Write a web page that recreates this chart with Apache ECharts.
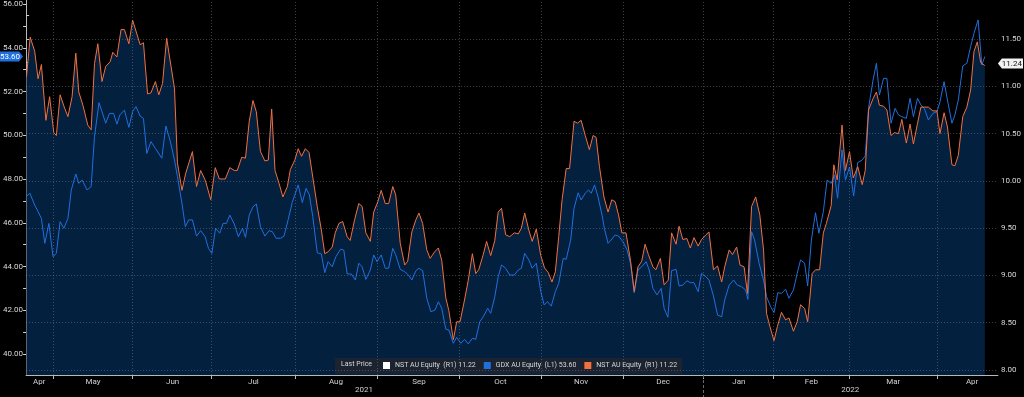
<!DOCTYPE html>
<html>
<head>
<meta charset="utf-8">
<script src="https://cdn.jsdelivr.net/npm/echarts@6/dist/echarts.min.js"></script>
<style>
html, body { margin: 0; padding: 0; background: #000; }
#main { width: 1024px; height: 397px; }
</style>
</head>
<body>
<div id="main"></div>
<script>
// x = trading day counted from the first close shown, y = last price
var gdxSeries = [[0.0,47.19],[1.0,47.35],[2.3,46.81],[3.2,46.51],[4.1,46.20],[5.0,45.06],[6.1,45.97],[7.2,44.45],[8.1,44.60],[9.1,46.05],[10.1,45.75],[11.2,46.20],[12.1,47.50],[13.3,48.23],[14.1,47.80],[15.0,47.95],[16.3,47.50],[17.4,47.65],[18.3,49.93],[19.5,51.49],[20.3,51.08],[21.3,50.55],[22.3,51.00],[23.4,51.00],[24.3,50.51],[25.1,50.93],[26.3,51.15],[27.5,50.36],[28.5,51.08],[29.4,51.31],[30.5,50.88],[31.4,50.77],[32.3,49.17],[33.4,49.71],[34.6,49.40],[36.3,48.95],[37.4,50.42],[38.5,49.78],[39.7,48.87],[40.5,48.10],[41.7,46.89],[42.6,45.82],[43.5,46.13],[44.5,46.13],[45.6,45.39],[46.7,45.64],[47.9,45.36],[48.8,44.83],[49.7,44.60],[50.7,45.75],[51.8,45.52],[52.7,45.97],[53.6,45.97],[54.5,46.35],[55.7,45.94],[56.8,45.36],[57.9,45.75],[58.7,45.33],[59.7,46.35],[60.7,46.73],[61.6,46.86],[62.7,45.82],[63.9,45.39],[65.0,45.64],[65.9,45.59],[66.9,45.29],[68.1,45.29],[69.0,45.39],[70.1,46.13],[71.2,46.92],[72.8,47.73],[73.9,46.92],[74.9,47.57],[75.8,47.27],[76.7,46.28],[77.9,44.63],[79.0,44.57],[79.9,43.72],[80.8,44.22],[81.9,43.99],[82.9,44.45],[84.1,44.79],[85.0,44.75],[85.9,43.66],[87.0,43.66],[88.1,43.38],[89.0,44.15],[89.9,43.99],[90.9,43.41],[92.1,43.84],[93.0,44.53],[93.9,44.22],[95.0,44.53],[96.1,43.92],[97.0,43.92],[98.1,44.83],[98.9,44.53],[100.1,43.87],[101.3,43.76],[102.3,43.61],[103.2,43.38],[104.3,43.81],[105.1,43.92],[106.1,43.81],[107.2,42.55],[108.3,41.93],[109.4,42.01],[110.3,42.39],[111.2,42.09],[112.3,41.13],[113.1,41.10],[114.3,40.49],[115.2,40.76],[116.3,40.49],[117.3,40.67],[118.3,40.46],[119.4,40.72],[120.3,40.67],[121.4,41.48],[122.3,41.70],[123.5,42.09],[124.3,41.86],[125.4,42.62],[126.3,43.53],[127.2,44.07],[128.3,43.92],[129.4,43.61],[130.6,43.61],[131.7,43.84],[132.5,43.92],[133.4,44.60],[134.5,44.30],[135.4,43.92],[136.5,44.15],[137.7,42.85],[138.6,42.24],[139.5,42.39],[140.5,42.19],[141.6,42.85],[142.5,43.23],[143.7,44.37],[144.5,44.33],[145.7,45.21],[146.6,46.66],[147.7,47.37],[148.5,47.04],[149.6,47.35],[150.5,47.50],[151.2,47.35],[152.1,47.73],[153.0,47.19],[154.1,46.35],[154.7,45.75],[155.7,45.06],[156.5,45.21],[157.6,45.44],[158.5,45.39],[159.7,45.13],[160.8,44.75],[161.7,44.15],[162.7,42.80],[163.7,43.84],[164.7,43.99],[165.9,44.22],[166.7,43.84],[167.7,43.00],[168.8,42.70],[169.9,43.00],[170.7,42.09],[171.7,41.68],[172.7,43.81],[173.9,43.87],[174.7,43.11],[175.7,43.15],[176.8,43.35],[177.7,43.26],[178.7,43.26],[179.8,42.85],[180.7,43.69],[181.9,43.53],[182.7,43.38],[183.9,42.65],[185.0,41.78],[186.1,41.70],[186.9,42.47],[188.1,43.15],[189.3,43.38],[190.3,43.15],[191.4,43.08],[192.5,42.93],[193.1,42.50],[194.1,45.59],[194.9,45.21],[196.1,44.15],[197.3,43.38],[198.1,42.62],[199.2,42.16],[200.1,41.89],[201.1,42.80],[202.1,42.77],[203.2,42.96],[204.1,42.55],[205.3,42.93],[206.3,43.69],[207.2,44.30],[208.3,44.15],[209.1,43.11],[210.1,45.21],[211.2,46.46],[212.1,45.52],[213.3,46.51],[214.3,47.95],[215.4,47.80],[216.3,48.18],[217.1,47.12],[218.3,49.33],[219.2,47.95],[220.3,48.55],[221.4,47.22],[222.5,48.75],[223.7,48.87],[224.5,49.05],[225.4,51.25],[226.6,52.53],[227.5,53.29],[228.3,51.84],[229.4,52.60],[230.3,52.60],[231.4,50.55],[232.5,51.23],[233.4,50.93],[234.3,50.85],[235.5,50.77],[236.5,51.69],[237.4,50.85],[238.5,51.69],[239.4,51.38],[240.3,51.23],[241.4,50.70],[242.6,51.00],[243.7,51.08],[244.5,51.53],[245.6,52.45],[246.5,51.61],[247.7,50.55],[248.5,50.93],[249.4,51.61],[250.6,53.17],[251.7,53.29],[252.7,54.05],[253.6,54.66],[254.7,55.27],[255.7,53.21],[256.5,53.60]];

var nstSeries = [[0.1,11.10],[1.1,11.52],[2.3,11.37],[3.2,11.08],[4.1,11.23],[5.3,10.64],[6.3,10.89],[7.4,10.51],[8.1,10.48],[9.1,10.91],[10.3,10.77],[11.2,10.68],[12.3,10.89],[13.3,11.35],[14.1,10.94],[15.2,10.80],[16.5,10.59],[17.4,10.54],[18.3,11.24],[19.2,11.45],[20.3,11.05],[21.3,11.21],[22.5,11.26],[23.2,11.36],[24.3,11.31],[25.4,11.60],[26.3,11.60],[27.5,11.45],[28.5,11.70],[29.9,11.52],[30.5,11.44],[31.4,11.46],[32.5,10.92],[33.4,10.93],[34.6,11.05],[35.5,10.91],[36.5,11.03],[37.6,11.51],[38.5,11.28],[39.7,10.98],[40.5,10.19],[41.7,9.90],[42.7,10.08],[44.5,10.31],[45.6,9.94],[46.7,10.11],[48.0,10.00],[49.4,9.80],[50.6,10.14],[51.7,10.02],[53.3,10.02],[54.5,10.14],[55.7,10.11],[56.5,10.11],[57.7,10.25],[58.7,10.24],[59.7,10.63],[60.7,10.85],[61.6,10.73],[62.7,10.31],[63.9,10.21],[64.8,10.22],[65.7,10.76],[66.6,10.11],[67.7,9.97],[68.7,9.83],[69.9,9.94],[70.7,10.12],[71.9,10.22],[72.8,10.34],[73.7,10.26],[74.7,10.34],[75.7,10.30],[76.7,10.04],[77.9,9.73],[79.0,9.48],[79.9,9.23],[80.8,9.25],[81.9,9.30],[82.7,9.45],[83.7,9.55],[84.7,9.57],[85.9,9.41],[86.7,9.37],[87.9,9.59],[89.0,9.76],[89.9,9.73],[90.9,9.45],[92.1,9.36],[93.0,9.67],[94.1,9.78],[95.0,9.90],[96.1,9.76],[97.0,9.76],[98.1,9.94],[98.9,9.85],[100.1,9.34],[101.3,9.11],[102.1,9.15],[103.2,9.46],[104.3,9.59],[105.1,9.66],[106.1,9.55],[107.2,9.27],[108.1,9.18],[109.3,9.25],[110.3,9.29],[111.2,9.16],[112.3,8.76],[113.1,8.63],[114.3,8.32],[115.2,8.51],[116.1,8.51],[117.3,8.74],[118.3,8.95],[119.4,9.23],[120.3,9.02],[121.1,9.06],[122.3,9.22],[123.2,9.36],[124.3,9.21],[125.4,9.37],[126.3,9.67],[127.2,9.71],[128.3,9.43],[129.4,9.41],[130.6,9.45],[131.7,9.44],[132.5,9.50],[133.4,9.66],[134.5,9.48],[135.4,9.36],[136.5,9.49],[137.7,9.21],[138.7,9.08],[139.7,9.03],[140.7,8.93],[141.6,9.04],[142.5,9.41],[143.4,9.80],[144.5,10.13],[145.4,10.13],[146.6,10.63],[147.5,10.61],[148.5,10.64],[149.6,10.48],[150.7,10.33],[151.7,10.48],[152.5,10.46],[153.4,10.15],[154.6,9.83],[155.7,9.67],[156.7,9.80],[157.6,9.78],[158.5,9.64],[159.4,9.45],[160.5,9.45],[161.7,9.16],[162.7,8.83],[163.7,9.09],[164.7,9.15],[165.6,9.33],[166.5,9.22],[167.7,9.09],[168.5,9.06],[169.7,9.18],[170.7,8.90],[171.8,8.95],[172.7,9.45],[173.9,9.33],[174.7,9.52],[175.7,9.38],[176.8,9.39],[177.7,9.29],[178.7,9.40],[179.8,9.31],[180.7,9.38],[181.9,9.43],[182.7,9.46],[183.9,9.06],[185.0,9.10],[186.1,8.93],[186.9,9.09],[188.1,9.27],[189.0,9.22],[190.1,9.30],[191.0,9.11],[192.1,9.09],[193.0,8.81],[194.1,9.73],[195.2,9.83],[196.3,9.64],[197.3,9.27],[198.1,8.60],[199.0,8.46],[200.1,8.31],[201.0,8.46],[202.1,8.61],[203.2,8.53],[204.1,8.55],[205.3,8.41],[206.3,8.51],[207.2,8.69],[208.3,8.65],[209.1,8.51],[210.3,9.02],[211.2,9.06],[212.3,9.06],[213.3,9.45],[214.1,9.55],[215.4,9.74],[216.1,10.17],[217.0,10.01],[218.3,10.59],[219.2,10.11],[220.3,10.31],[221.3,10.03],[222.5,10.15],[223.7,9.96],[224.5,10.11],[225.4,10.75],[226.6,10.87],[227.5,10.94],[228.3,10.80],[229.4,10.79],[230.3,10.75],[231.4,10.48],[232.3,10.51],[233.4,10.50],[234.3,10.65],[235.5,10.40],[236.5,10.60],[237.4,10.39],[238.5,10.61],[239.4,10.78],[240.3,10.78],[241.4,10.78],[242.6,10.74],[243.7,10.74],[244.5,10.50],[245.6,10.72],[246.5,10.57],[247.7,10.17],[248.5,10.16],[249.4,10.27],[250.6,10.68],[251.7,10.78],[252.7,10.96],[253.6,11.37],[254.5,11.47],[255.4,11.25],[256.5,11.22]];

// month boundaries (ticks / gridlines) and the middle of each month (labels)
var monthStarts = [7.2, 28.5, 49.6, 72.0, 93.9, 116.0, 137.9, 159.7, 181.1, 200.0, 220.3, 243.7];
var monthMids = [3.5, 17.9, 39.2, 60.8, 82.9, 105.1, 126.9, 148.5, 170.4, 190.7, 210.1, 232.0, 253.1];
var monthNames = ['Apr', 'May', 'Jun', 'Jul', 'Aug', 'Sep', 'Oct', 'Nov', 'Dec', 'Jan', 'Feb', 'Mar', 'Apr'];
var yearMids = [90.4, 220.5];
var yearNames = ['2021', '2022'];
var yearBreak = [181.1];

var gdxLabels = [40, 42, 44, 46, 48, 50, 52, 54, 56];
var gdxTicks = [40, 41, 42, 43, 44, 45, 46, 47, 48, 49, 50, 51, 52, 53, 54, 55, 56];
var nstLabels = [8, 8.5, 9, 9.5, 10, 10.5, 11, 11.5];
var nstTicks = [8, 8.25, 8.5, 8.75, 9, 9.25, 9.5, 9.75, 10, 10.25, 10.5, 10.75, 11, 11.25, 11.5, 11.75];

var gdxLast = 53.60;
var nstLast = 11.22;
var nstTag = 11.24;

var font = 'Roboto';
var legendText = {
    'NST area': 'NST AU Equity  (R1) ' + nstLast.toFixed(2),
    'GDX': 'GDX AU Equity  (L1) ' + gdxLast.toFixed(2),
    'NST': 'NST AU Equity  (R1) ' + nstLast.toFixed(2)
};

var myChart = echarts.init(document.getElementById('main'));

//网格线：画在面积之上
var gridLines = nstLabels.map(function (v) { return { yAxis: v }; })
    .concat(monthStarts.map(function (v) { return { xAxis: v }; }));

var option = {
    backgroundColor: '#000000',
    animation: false,
    grid: { left: 23, right: 26, top: 0, bottom: 22 },
    legend: {
        left: 335,
        top: 358,
        icon: 'rect',
        itemWidth: 7,
        itemHeight: 7,
        itemGap: 8,
        selectedMode: false,
        backgroundColor: '#1b2331',
        padding: [4, 5, 5, 48],
        textStyle: { color: '#d8d8d8', fontSize: 7, fontFamily: font },
        formatter: function (name) { return legendText[name]; },
        data: [
            { name: 'NST area', itemStyle: { color: '#ffffff' } },
            { name: 'GDX', itemStyle: { color: '#1f6fe0' } },
            { name: 'NST', itemStyle: { color: '#f2703e' } }
        ]
    },
    xAxis: [{
        type: 'value',
        min: 0,
        max: 260,
        axisLine: { onZero: false, lineStyle: { color: '#b8b8b8', width: 1 } },
        axisTick: { customValues: monthStarts, length: 4, lineStyle: { color: '#b8b8b8' } },
        axisLabel: {
            customValues: monthMids,
            margin: 3,
            color: '#d0d0d0',
            fontSize: 8,
            fontFamily: font,
            formatter: function (val) {
                var best = 0;
                for (var i = 0; i < monthMids.length; i++) {
                    if (Math.abs(monthMids[i] - val) < Math.abs(monthMids[best] - val)) best = i;
                }
                return monthNames[best];
            }
        },
        splitLine: { show: false }
    }, {
        type: 'value',
        position: 'bottom',
        min: 0,
        max: 260,
        axisLine: { show: false, onZero: false },
        axisTick: { customValues: yearBreak, length: 22, lineStyle: { color: '#6a6a6a', type: [3, 2] } },
        axisLabel: {
            customValues: yearMids,
            margin: 11,
            color: '#d0d0d0',
            fontSize: 8,
            fontFamily: font,
            formatter: function (val) {
                return Math.abs(val - yearMids[0]) < Math.abs(val - yearMids[1]) ? yearNames[0] : yearNames[1];
            }
        },
        splitLine: { show: false }
    }],
    yAxis: [{
        type: 'value',
        position: 'left',
        min: 39.04,
        max: 56.18,
        axisLine: { show: true, lineStyle: { color: '#b8b8b8', width: 1 } },
        axisTick: { show: true, customValues: gdxTicks, length: 3, lineStyle: { color: '#d0d0d0' } },
        axisLabel: {
            customValues: gdxLabels,
            margin: 3,
            color: '#d8d8d8',
            fontSize: 8,
            fontFamily: font,
            formatter: function (v) { return v.toFixed(2); }
        },
        splitLine: { show: false }
    }, {
        type: 'value',
        position: 'right',
        min: 7.947,
        max: 11.912,
        axisLine: { show: true, lineStyle: { color: '#b8b8b8', width: 1 } },
        axisTick: { show: true, customValues: nstTicks, length: 3, lineStyle: { color: '#d0d0d0' } },
        axisLabel: {
            customValues: nstLabels,
            margin: 3,
            color: '#d8d8d8',
            fontSize: 8,
            fontFamily: font,
            formatter: function (v) { return v.toFixed(2); }
        },
        splitLine: { show: false }
    }],
    series: [{
        name: 'NST area',
        type: 'line',
        xAxisIndex: 0,
        yAxisIndex: 1,
        data: nstSeries,
        showSymbol: false,
        silent: true,
        itemStyle: { color: '#ffffff' },
        lineStyle: { width: 0 },
        areaStyle: { color: '#04203f', opacity: 1, origin: 'start' },
        markLine: {
            silent: true,
            symbol: 'none',
            label: { show: false },
            lineStyle: { color: 'rgba(130,140,160,0.45)', type: [1, 2], width: 1 },
            data: gridLines
        }
    }, {
        name: 'GDX',
        type: 'line',
        xAxisIndex: 0,
        yAxisIndex: 0,
        data: gdxSeries,
        showSymbol: false,
        silent: true,
        itemStyle: { color: '#1f6fe0' },
        lineStyle: { color: '#1f6fe0', width: 1 }
    }, {
        name: 'NST',
        type: 'line',
        xAxisIndex: 0,
        yAxisIndex: 1,
        data: nstSeries,
        showSymbol: false,
        silent: true,
        itemStyle: { color: '#f2703e' },
        lineStyle: { color: '#f2703e', width: 1 }
    }]
};

myChart.setOption(option);

// 最新价标签
var yG = myChart.convertToPixel({ yAxisIndex: 0 }, gdxLast);
var yN = myChart.convertToPixel({ yAxisIndex: 1 }, nstTag);
var xR = myChart.convertToPixel({ xAxisIndex: 0 }, 260);

myChart.setOption({
    graphic: [{
        type: 'polygon',
        shape: { points: [[0, yG - 5], [19, yG - 5], [23, yG], [19, yG + 5], [0, yG + 5]] },
        style: { fill: '#1f6fe0' },
        z: 100
    }, {
        type: 'text',
        x: 10, y: yG,
        style: { text: gdxLast.toFixed(2), fill: '#ffffff', fontSize: 8, fontFamily: font, align: 'center', verticalAlign: 'middle' },
        z: 101
    }, {
        type: 'polygon',
        shape: { points: [[xR, yN], [xR + 4, yN - 5], [1023, yN - 5], [1023, yN + 5], [xR + 4, yN + 5]] },
        style: { fill: '#f2f2f2' },
        z: 100
    }, {
        type: 'text',
        x: xR + 14, y: yN,
        style: { text: nstTag.toFixed(2), fill: '#111111', fontSize: 8, fontFamily: font, align: 'center', verticalAlign: 'middle' },
        z: 101
    }, {
        type: 'text',
        left: 341, top: 361,
        style: { text: 'Last Price', fill: '#d8d8d8', fontSize: 7, fontFamily: font },
        z: 101
    }]
});
</script>
</body>
</html>
